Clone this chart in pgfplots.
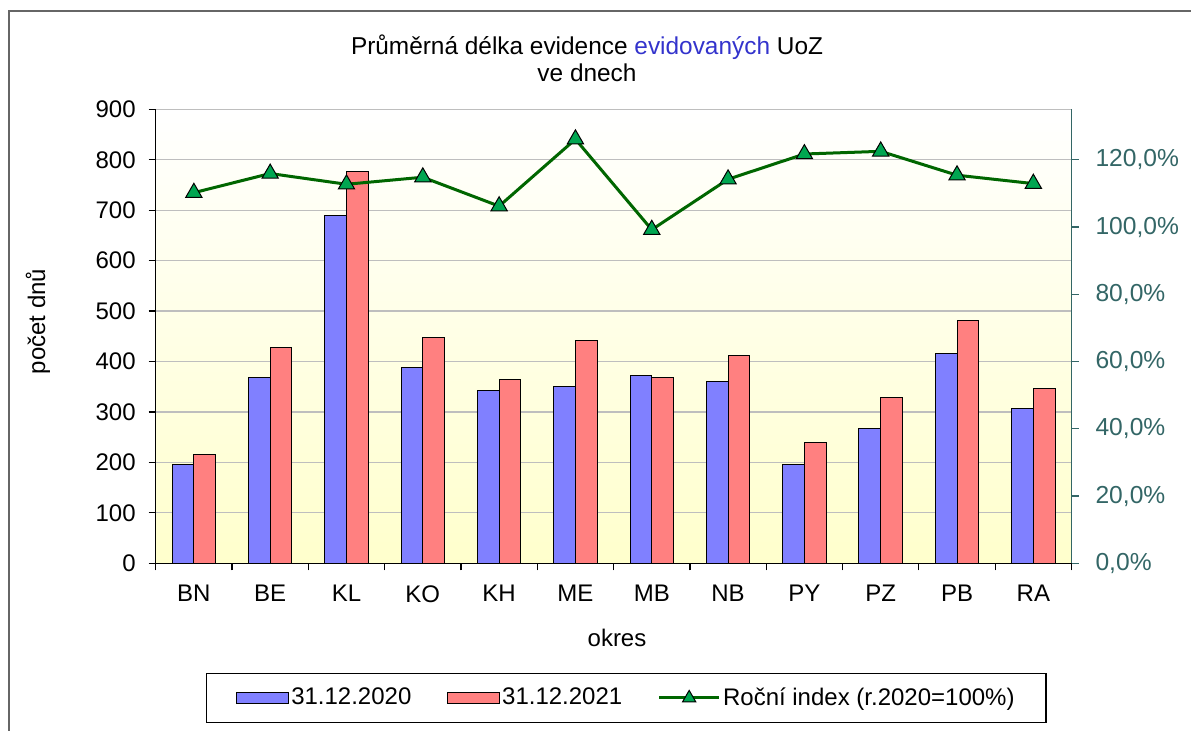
\documentclass[border=0pt]{standalone}
\usepackage{fontspec}
\setmainfont{Liberation Sans}
\usepackage{pgfplots}
\pgfplotsset{compat=1.18}
\definecolor{barblue}{RGB}{128,128,255}
\definecolor{barred}{RGB}{255,128,128}
\definecolor{linegreen}{RGB}{0,102,0}
\definecolor{markgreen}{RGB}{0,166,81}
\definecolor{tealax}{RGB}{51,102,102}
\definecolor{bgyellow}{RGB}{255,255,204}
\definecolor{gridgray}{RGB}{190,190,190}
\definecolor{titleblue}{RGB}{51,51,204}
\pgfplotsset{
 barlegend/.style={legend image code/.code={\draw[##1] (0pt,-2.75pt) rectangle (26pt,2.75pt);}},
 linelegend/.style={legend image code/.code={\draw[##1, mark repeat=2, mark phase=2, mark size=3.8pt] plot coordinates {(0pt,0pt) (15pt,0pt) (30pt,0pt)};}},
}
\begin{document}
\begin{tikzpicture}[font=\fontsize{12}{14}\selectfont]
\useasboundingbox (0pt,0pt) rectangle (595.5pt,365.5pt);
\draw[gray!80!black, line width=0.6pt] (4.5pt,0pt) -- (4.5pt,360pt) -- (595.5pt,360pt);
\node at (293.5pt,342pt) {\fontsize{12.2}{14}\selectfont Průměrná délka evidence \textcolor{titleblue}{evidovaných} UoZ};
\node at (293.5pt,329pt) {\fontsize{12.2}{14}\selectfont ve dnech};
\node[rotate=90] at (19pt,204.75pt) {počet dnů};
\node at (308.5pt,46.5pt) {okres};
\begin{axis}[
 at={(77.85pt,83.85pt)}, anchor=south west,
 scale only axis, width=457.9pt, height=227pt,
 xmin=-0.5, xmax=11.5, ymin=0, ymax=900,
 axis x line*=bottom, axis y line*=left,
 axis line style={black, line width=0.6pt},
 xtick={0,...,11},
 xticklabels={BN,BE,KL,KO,KH,ME,MB,NB,PY,PZ,PB,RA},
 major x tick style={draw=none},
 minor xtick={-0.5,0.5,...,11.5},
 tick align=outside,
 minor tick length=3.5pt, major tick length=3.5pt,
 tick style={black, line width=0.6pt},
 ytick={0,100,...,900},
 ymajorgrids, grid style={gridgray, line width=0.6pt},
 axis background/.style={top color=white, bottom color=bgyellow},
 /pgf/number format/assume math mode=true,
 tick label style={font=\fontsize{12}{14}\selectfont},
 xticklabel style={yshift=-4pt},
 yticklabel style={xshift=-3pt},
]
\addplot[ybar, bar width=0.285, bar shift=-0.1425, fill=barblue, draw=black, line width=0.5pt]
 coordinates {(0,196) (1,369) (2,689) (3,389) (4,342) (5,350) (6,372) (7,360) (8,196) (9,268) (10,416) (11,307)};
\addplot[ybar, bar width=0.285, bar shift=0.1425, fill=barred, draw=black, line width=0.5pt]
 coordinates {(0,216) (1,428) (2,777) (3,447) (4,364) (5,442) (6,369) (7,412) (8,239) (9,329) (10,481) (11,346)};
\end{axis}
\begin{axis}[
 at={(77.85pt,83.85pt)}, anchor=south west,
 scale only axis, width=457.9pt, height=227pt,
 xmin=-0.5, xmax=11.5, ymin=0, ymax=135,
 axis x line=none, axis y line*=right,
 y axis line style={tealax, line width=0.6pt},
 ytick={0,20,...,120},
 yticklabels={{0,0\%},{20,0\%},{40,0\%},{60,0\%},{80,0\%},{100,0\%},{120,0\%}},
 tick align=outside, major tick length=3.5pt,
 ytick style={tealax, line width=0.6pt},
 yticklabel style={tealax, font=\fontsize{12.3}{14}\selectfont, xshift=5pt},
 legend columns=3,
 legend style={at={(0.514,-0.2967)}, anchor=center, draw=black, line width=0.6pt,
   font=\fontsize{12}{14}\selectfont, inner xsep=14.5pt, inner ysep=5pt,
   /tikz/every even column/.append style={column sep=16.5pt},
   nodes={inner xsep=1.2pt}},
]
\addlegendimage{barlegend, fill=barblue, draw=black, line width=0.5pt}
\addlegendentry{31.12.2020}
\addlegendimage{barlegend, fill=barred, draw=black, line width=0.5pt}
\addlegendentry{31.12.2021}
\addplot[linegreen, line width=1.5pt, mark=triangle*, mark size=4.7pt,
  mark options={fill=markgreen, draw=black, line width=0.5pt, solid}, linelegend]
 coordinates {(0,110.2) (1,115.9) (2,112.7) (3,114.8) (4,106.2) (5,126.1) (6,99.2) (7,114.2) (8,121.7) (9,122.5) (10,115.4) (11,112.9)};
\addlegendentry{Roční index (r.2020=100\%)}
\end{axis}
\end{tikzpicture}
\end{document}
